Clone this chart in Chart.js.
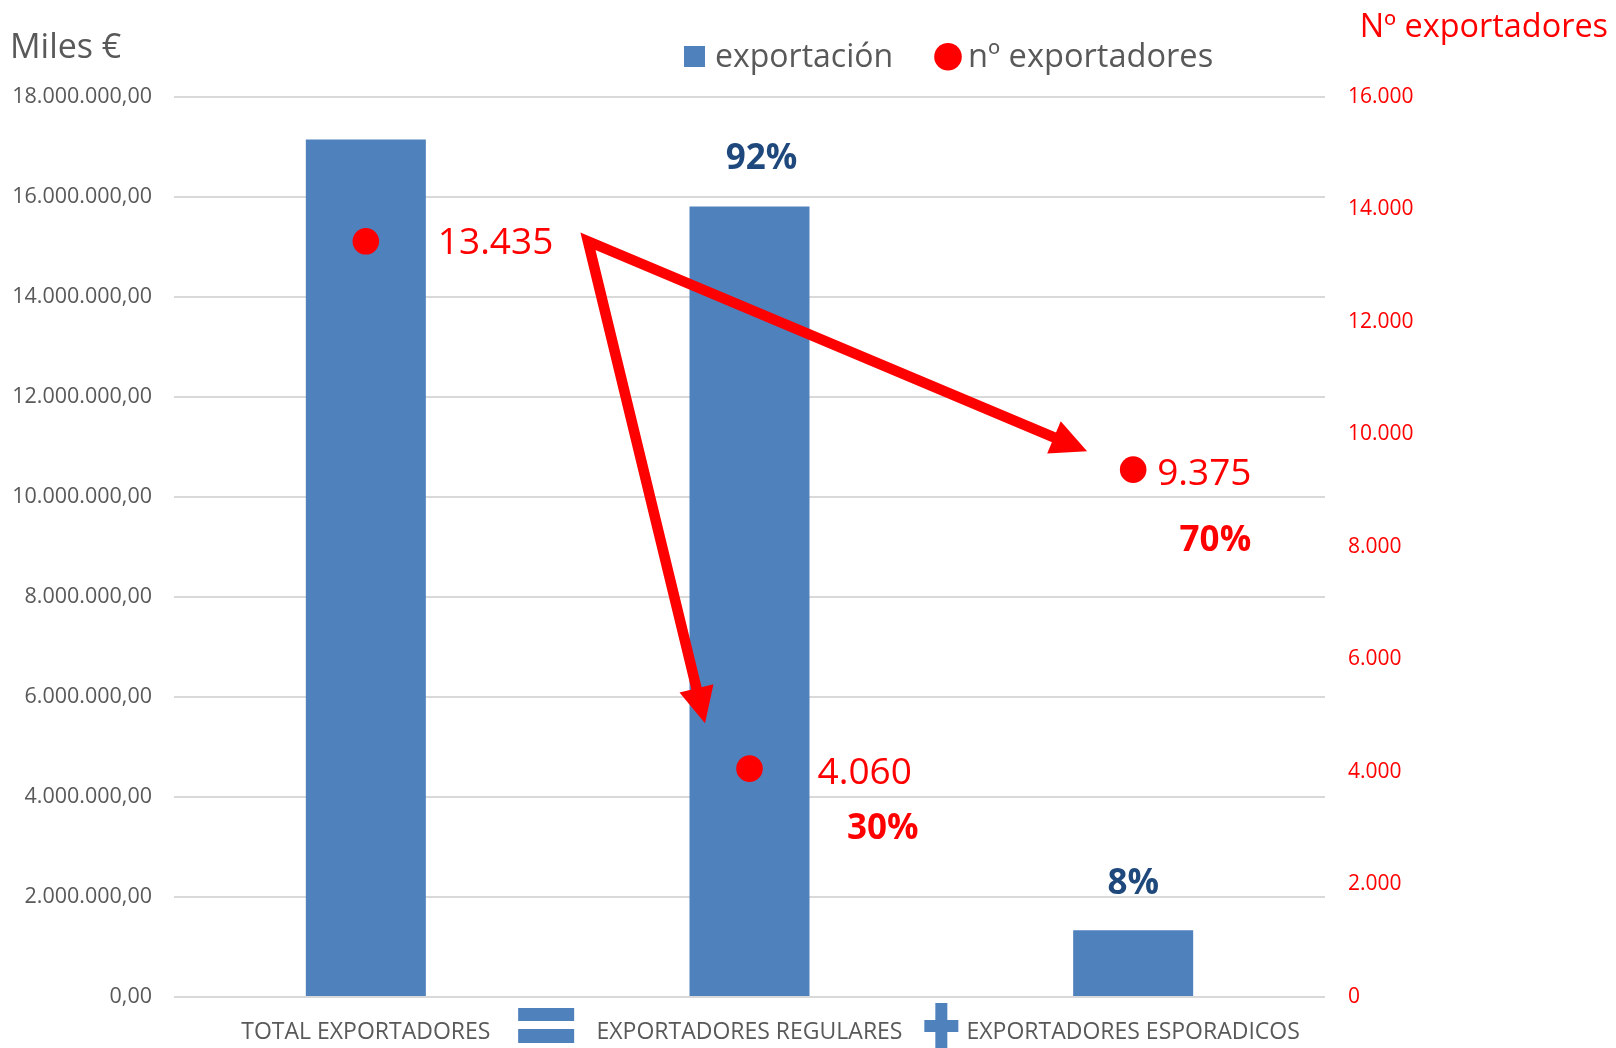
<!DOCTYPE html>
<html><head><meta charset="utf-8">
<script src="https://cdn.jsdelivr.net/npm/chart.js@4.4.1/dist/chart.umd.min.js"></script>
<style>html,body{margin:0;padding:0;background:#fff;overflow:hidden}#wrap{width:1616px;height:1048px;position:relative}</style>
</head><body><div id="wrap"><canvas id="c"></canvas></div>
<script>
// ---- data ----
const categories = ['TOTAL EXPORTADORES', 'EXPORTADORES REGULARES', 'EXPORTADORES ESPORADICOS'];
const exportValues = [17150000, 15810000, 1335000];      // Miles €
const exporterCounts = [13435, 4060, 9375];               // nº exportadores
const exportShares = [null, 92, 8];                        // % of export value
const exporterShares = [null, 30, 70];                     // % of exporters
const leftTickValues = [0, 2000000, 4000000, 6000000, 8000000, 10000000, 12000000, 14000000, 16000000, 18000000];
const rightTickValues = [0, 2000, 4000, 6000, 8000, 10000, 12000, 14000, 16000];
const seriesLabels = ['exportación', 'nº exportadores'];
const leftAxisTitle = 'Miles €';
const rightAxisTitle = 'Nº exportadores';
// arrow annotations in data space (x = category index, y = right axis value)
const arrowStart = { x: 0.579, y: 13435 };
const arrowTips = [{ x: 1.880, y: 9701 }, { x: 0.884, y: 4866 }];
const separatorSigns = [{ x: 0.47, sign: '=' }, { x: 1.5, sign: '+' }];

// ---- styles ----
const FONT = "'Open Sans', sans-serif";
const GREY = '#595959';
const BLUE = '#4F81BD';
const RED = '#FF0000';
const DARKBLUE = '#1F497D';
// label offsets (pixels) relative to marks
const countLabelOffsets = [{ dx: 72, dy: 13 }, { dx: 68, dy: 15 }, { dx: 24, dy: 15 }];
const exporterShareOffsets = [null, { dx: 169, dy: 70 }, { dx: 118, dy: 81 }];
const exportShareOffsets = [null, { dx: 12, dy: -38 }, { dx: 0, dy: -36 }];

function fmtThousands(v, decimals) {
  const neg = v < 0; v = Math.abs(v);
  let s = decimals ? v.toFixed(decimals) : String(Math.round(v));
  let [ip, dp] = s.split('.');
  ip = ip.replace(/\B(?=(\d{3})+(?!\d))/g, '.');
  return (neg ? '-' : '') + ip + (dp !== undefined ? ',' + dp : '');
}

const overlay = {
  id: 'overlay',
  afterDatasetsDraw(chart) {
    const ctx = chart.ctx, xs = chart.scales.x, ys1 = chart.scales.y1;
    const P = p => ({ x: xs.getPixelForValue(p.x), y: ys1.getPixelForValue(p.y) });
    const s = P(arrowStart);
    const heads = arrowTips.map(t => {
      const tip = P(t);
      const dx = tip.x - s.x, dy = tip.y - s.y, d = Math.hypot(dx, dy);
      const ux = dx / d, uy = dy / d, len = 36, hw = 17.5;
      const bx = tip.x - ux * len, by = tip.y - uy * len;
      return { base: { x: bx + ux * 2, y: by + uy * 2 }, pts: [tip, { x: bx - uy * hw, y: by + ux * hw }, { x: bx + uy * hw, y: by - ux * hw }] };
    });
    ctx.save();
    ctx.strokeStyle = RED; ctx.fillStyle = RED; ctx.lineWidth = 10.5;
    ctx.lineJoin = 'miter'; ctx.miterLimit = 10; ctx.lineCap = 'butt';
    ctx.beginPath();
    ctx.moveTo(heads[1].base.x, heads[1].base.y);
    ctx.lineTo(s.x, s.y);
    ctx.lineTo(heads[0].base.x, heads[0].base.y);
    ctx.stroke();
    heads.forEach(h => {
      ctx.beginPath();
      ctx.moveTo(h.pts[0].x, h.pts[0].y);
      ctx.lineTo(h.pts[1].x, h.pts[1].y);
      ctx.lineTo(h.pts[2].x, h.pts[2].y);
      ctx.closePath(); ctx.fill();
    });

    // point value labels
    const lineMeta = chart.getDatasetMeta(0);
    const barMeta = chart.getDatasetMeta(1);
    ctx.textBaseline = 'alphabetic';
    lineMeta.data.forEach((pt, i) => {
      const o = countLabelOffsets[i];
      ctx.font = `37px ${FONT}`; ctx.fillStyle = RED; ctx.textAlign = 'left';
      ctx.fillText(fmtThousands(exporterCounts[i], 0), pt.x + o.dx, pt.y + o.dy);
      if (exporterShares[i] !== null) {
        const so = exporterShareOffsets[i];
        ctx.font = `bold 35px ${FONT}`; ctx.textAlign = 'right';
        ctx.fillText(exporterShares[i] + '%', pt.x + so.dx, pt.y + so.dy);
      }
    });
    barMeta.data.forEach((bar, i) => {
      if (exportShares[i] === null) return;
      const o = exportShareOffsets[i];
      ctx.font = `bold 35px ${FONT}`; ctx.fillStyle = DARKBLUE; ctx.textAlign = 'center';
      ctx.fillText(exportShares[i] + '%', bar.x + o.dx, bar.y + o.dy);
    });
    ctx.restore();
  },
  afterDraw(chart) {
    const ctx = chart.ctx, xs = chart.scales.x;
    ctx.save();
    // axis titles
    ctx.textBaseline = 'alphabetic';
    ctx.font = `34px ${FONT}`; ctx.fillStyle = GREY; ctx.textAlign = 'left';
    ctx.fillText(leftAxisTitle, 10, 58);
    ctx.font = `32.4px ${FONT}`; ctx.fillStyle = RED; ctx.textAlign = 'right';
    ctx.fillText(rightAxisTitle, 1608, 37);
    // legend
    const dsBar = chart.data.datasets[1], dsLine = chart.data.datasets[0];
    ctx.fillStyle = dsBar.backgroundColor;
    ctx.fillRect(684, 46, 21, 21);
    ctx.font = `32px ${FONT}`; ctx.fillStyle = GREY; ctx.textAlign = 'left';
    ctx.fillText(dsBar.label, 715, 67);
    ctx.beginPath(); ctx.arc(948, 56.7, 13.8, 0, Math.PI * 2);
    ctx.fillStyle = dsLine.pointBackgroundColor; ctx.fill();
    ctx.fillStyle = GREY;
    ctx.font = `32.6px ${FONT}`;
    ctx.fillText(dsLine.label, 968, 67);
    // separator signs between category labels
    ctx.fillStyle = BLUE;
    separatorSigns.forEach(sg => {
      const cx = xs.getPixelForValue(sg.x);
      if (sg.sign === '=') {
        ctx.fillRect(cx - 28, 1008, 56, 13);
        ctx.fillRect(cx - 28, 1029, 56, 14);
      } else {
        ctx.fillRect(cx - 6, 1003, 12, 45);
        ctx.fillRect(cx - 17, 1020, 34, 12);
      }
    });
    ctx.restore();
  }
};

new Chart(document.getElementById('c'), {
  data: {
    labels: categories,
    datasets: [
      {
        type: 'line', label: seriesLabels[1], data: exporterCounts, yAxisID: 'y1',
        showLine: false, pointRadius: 13.3, pointHoverRadius: 13.3,
        pointBackgroundColor: RED, pointBorderWidth: 0, borderColor: RED, order: 1
      },
      {
        type: 'bar', label: seriesLabels[0], data: exportValues, yAxisID: 'y',
        backgroundColor: BLUE, borderWidth: 0,
        barPercentage: 0.3128, categoryPercentage: 1, order: 2
      }
    ]
  },
  options: {
    responsive: true, maintainAspectRatio: false, animation: false,
    layout: { padding: { top: 97, left: 0, right: 0, bottom: 0 } },
    plugins: { legend: { display: false }, tooltip: { enabled: false } },
    scales: {
      x: {
        offset: true,
        grid: { display: false, drawTicks: false },
        border: { display: false },
        ticks: { color: GREY, font: { family: FONT, size: 23 }, padding: 22, maxRotation: 0, autoSkip: false },
        afterFit: s => { s.height = 51; }
      },
      y: {
        position: 'left', min: leftTickValues[0], max: leftTickValues[leftTickValues.length - 1],
        grid: { color: '#D9D9D9', lineWidth: 2, drawTicks: false },
        border: { display: false },
        afterBuildTicks: s => { s.ticks = leftTickValues.map(v => ({ value: v })); },
        ticks: { color: GREY, font: { family: FONT, size: 21.5 }, padding: 22, callback: v => fmtThousands(v, 2) },
        afterFit: s => { s.width = 174; }
      },
      y1: {
        position: 'right', min: rightTickValues[0], max: rightTickValues[rightTickValues.length - 1],
        grid: { display: false, drawTicks: false },
        border: { display: false },
        afterBuildTicks: s => { s.ticks = rightTickValues.map(v => ({ value: v })); },
        ticks: { color: RED, font: { family: FONT, size: 21 }, padding: 23, callback: v => fmtThousands(v, 0) },
        afterFit: s => { s.width = 291; }
      }
    }
  },
  plugins: [overlay]
});
</script>
</body></html>
